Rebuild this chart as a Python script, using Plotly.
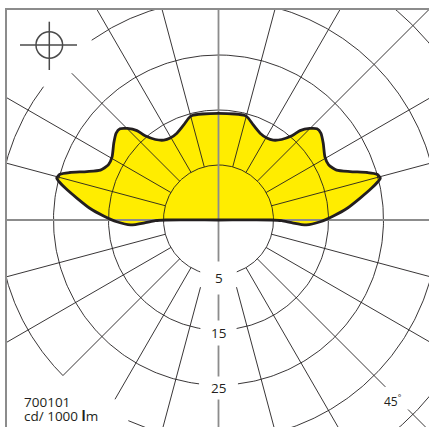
import numpy as np
import plotly.graph_objects as go

# ---------------- data ----------------
# right half of the (symmetric) luminous intensity curve
# angle measured from nadir in degrees, intensity in cd / 1000 lm
CURVE_ANGLE = [90.0, 89.4, 87.9, 86.8, 89.0, 92.0, 95.2, 98.7, 101.7, 103.5,
               104.5, 106.1, 107.7, 110.2, 112.9, 116.6, 120.7, 126.2, 130.3,
               132.8, 135.1, 137.6, 138.9, 141.9, 145.6, 149.5, 154.4, 159.9,
               163.7, 165.8, 171.2, 180.0]
CURVE_VALUE = [4.6, 6.5, 8.3, 11.0, 13.5, 15.9, 18.5, 21.0, 23.4, 24.8,
               25.4, 25.0, 23.4, 20.5, 18.3, 17.4, 17.5, 18.6, 19.4,
               19.4, 18.5, 17.0, 15.3, 13.6, 12.6, 12.3, 12.5, 13.4,
               14.3, 14.6, 14.5, 14.4]

RING_VALUES = [5, 15, 25, 35, 45]
RING_LABELS = ["5", "15", "25"]
RAY_ANGLES = [-165, -150, -135, -120, -105, -75, -60, -45, -30, -15,
              15, 30, 45, 60, 75, 105, 120, 135, 150, 165]
ANGLE_LABEL = "45<sup>°</sup>"
PHOTOMETRY_ID = "700101"
UNIT_LABEL = "cd/ 1000 <b>l</b>m"
OFFSET = 5  # radial offset of the scale (central hole)

# ---------------- geometry / style ----------------
W, H = 429, 427
ML, MT = 7, 10
CX, CY = 218.5, 220.0     # pole position in pixels
PX = 5.5                  # pixels per cd/klm
GAP = 18 / PX             # free band around the lower vertical axis
YELLOW = "#ffed00"
INK = "#231f20"
GREY = "#8c8c8c"

xr = [(ML - CX) / PX, (W - CX) / PX]
yr = [(CY - H) / PX, (CY - MT) / PX]


def pos(phi_deg, rad):
    p = np.radians(phi_deg)
    return rad * np.sin(p), -rad * np.cos(p)


fig = go.Figure()

# ---- filled intensity curve ----
a = np.array(CURVE_ANGLE)
v = np.array(CURVE_VALUE) + OFFSET
phi = np.concatenate([a, -a[::-1][1:]])
rad = np.concatenate([v, v[::-1][1:]])
cx, cy = pos(phi, rad)
cx = np.concatenate([[0], cx, [0]])
cy = np.concatenate([[0], cy, [0]])
fig.add_trace(go.Scatter(x=cx, y=cy, mode="lines", fill="toself",
                         fillcolor=YELLOW, line=dict(width=0, shape="spline", smoothing=0.6),
                         hoverinfo="skip"))

# ---- rings ----
ring_spans = {
    5: [(-180, 180)], 15: [(-180, 180)], 25: [(-180, 180)],
    35: [(-180, -144.8), (-127.3, -45), (-24.2, 180)],
    45: [(0, 180)],
}
gx, gy = [], []
for val in RING_VALUES:
    R = val + OFFSET
    for s, e in ring_spans[val]:
        t = np.linspace(s, e, 400)
        x, y = pos(t, R)
        mask = (y < 0) & (np.abs(x) < GAP)
        x = np.where(mask, np.nan, x)
        y = np.where(mask, np.nan, y)
        gx += list(x) + [None]
        gy += list(y) + [None]

# ---- rays ----
ray_spans = {-135: [(55, 207.5)], -30: [(55, 207)], -45: [(55, 220)],
             45: [(55, 236), (268, 700)]}
for ang in RAY_ANGLES:
    for r0, r1 in ray_spans.get(ang, [(55, 700)]):
        r0 = r0 / PX
        r1 = r1 / PX
        if abs(ang) < 90:
            r0 = max(r0, GAP / abs(np.sin(np.radians(ang))))
        x0, y0 = pos(ang, r0)
        x1, y1 = pos(ang, r1)
        gx += [x0, x1, None]
        gy += [y0, y1, None]

fig.add_trace(go.Scatter(x=gx, y=gy, mode="lines", line=dict(color=INK, width=0.9),
                         hoverinfo="skip", connectgaps=False))

# ---- main axes (grey) ----
fig.add_trace(go.Scatter(x=[xr[0] - 5, xr[1] + 5, None, 0, 0],
                         y=[0, 0, None, yr[0] - 5, yr[1] + 5],
                         mode="lines", line=dict(color=GREY, width=1.8), hoverinfo="skip"))

# ---- outline ----
fig.add_trace(go.Scatter(x=cx, y=cy, mode="lines",
                         line=dict(color=INK, width=2.8, shape="spline", smoothing=0.6),
                         hoverinfo="skip"))

# ---- labels ----
font = dict(family="Open Sans, sans-serif", size=13.5, color=INK)
font_small = dict(family="Open Sans, sans-serif", size=12, color=INK)
pads = [7, 3, 2]
for lab, val, pad in zip(RING_LABELS, RING_VALUES, pads):
    fig.add_annotation(x=0, y=-(val + OFFSET), text=lab, showarrow=False, font=font,
                       bgcolor="white", borderpad=pad, yshift=-2.5)

lx, ly = pos(43.5, 251 / PX)
fig.add_annotation(x=lx, y=ly, text=ANGLE_LABEL, showarrow=False, font=font_small,
                   xshift=2, yshift=1)

fig.add_annotation(x=(22 - CX) / PX, y=(CY - 402) / PX, text=PHOTOMETRY_ID,
                   xanchor="left", showarrow=False, font=font)
fig.add_annotation(x=(22 - CX) / PX, y=(CY - 416) / PX, text=UNIT_LABEL,
                   xanchor="left", showarrow=False, font=font)

# ---- crosshair symbol ----
hx, hy = (49.3 - CX) / PX, (CY - 45) / PX
hr = 13.3 / PX
sym = dict(color="#4a4a4a", width=1.5)
fig.add_shape(type="circle", x0=hx - hr, x1=hx + hr, y0=hy - hr, y1=hy + hr, line=sym)
fig.add_shape(type="line", x0=(20 - CX) / PX, x1=(77 - CX) / PX, y0=hy, y1=hy, line=sym)
fig.add_shape(type="line", x0=hx, x1=hx, y0=(CY - 21.7) / PX, y1=(CY - 70) / PX, line=sym)

fig.update_layout(
    width=W, height=H, margin=dict(l=ML, t=MT, r=0, b=0),
    paper_bgcolor="white", plot_bgcolor="white", showlegend=False,
    xaxis=dict(range=xr, showgrid=False, zeroline=False, showticklabels=False,
               ticks="", side="top", showline=True, linecolor=GREY, linewidth=2,
               fixedrange=True, automargin=False),
    yaxis=dict(range=yr, showgrid=False, zeroline=False, showticklabels=False,
               ticks="", showline=True, linecolor=GREY, linewidth=2,
               fixedrange=True, automargin=False),
)

fig.write_html("out.html", config={"displayModeBar": False},
               post_script="document.body.style.margin='0px';"
                           "document.body.style.overflow='hidden';")
